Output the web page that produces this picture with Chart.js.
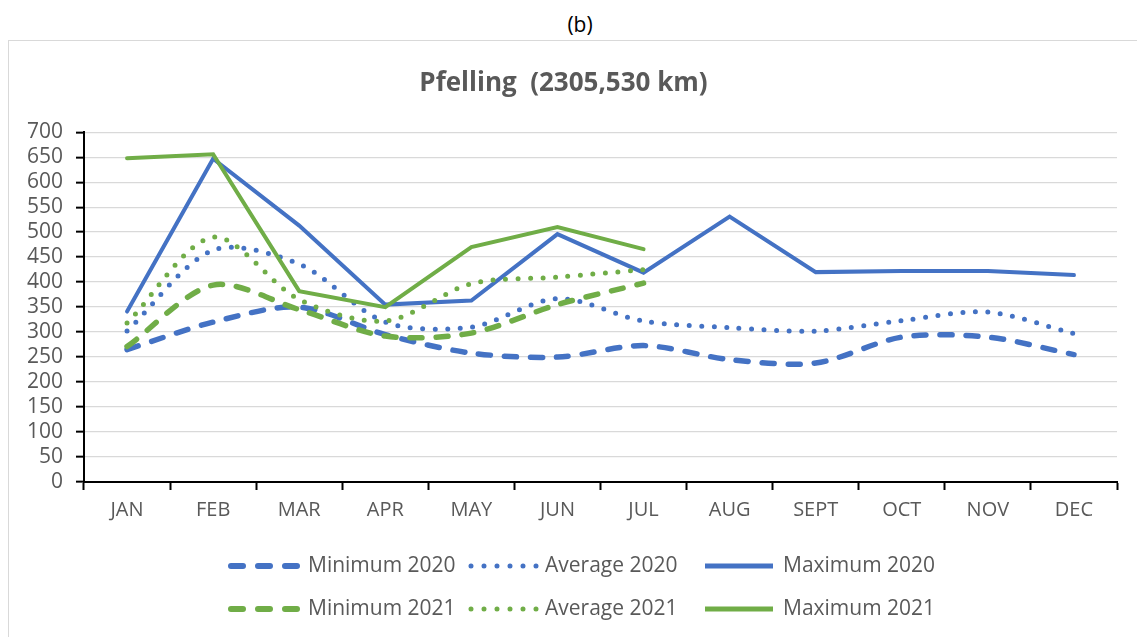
<!DOCTYPE html>
<html><head><meta charset="utf-8">
<script src="https://cdn.jsdelivr.net/npm/chart.js@4.4.0/dist/chart.umd.min.js"></script>
<style>
html,body{margin:0;padding:0;background:#fff;width:1137px;height:637px;overflow:hidden;}
#cap{position:absolute;left:0;width:1160px;top:9px;text-align:center;font-family:'Open Sans',sans-serif;font-size:21px;line-height:30px;color:#000;}
#frame{position:absolute;left:8px;top:40px;width:1160px;height:640px;border:1px solid #d9d9d9;}
#wrap{position:absolute;left:10px;top:41px;width:1127px;height:596px;}
</style></head>
<body>
<div id="cap">(b)</div>
<div id="frame"></div>
<div id="wrap"><canvas id="c"></canvas></div>
<script>
const months = ['JAN','FEB','MAR','APR','MAY','JUN','JUL','AUG','SEPT','OCT','NOV','DEC'];
const yTicks = [0,50,100,150,200,250,300,350,400,450,500,550,600,650,700];
const min2020 = [265, 320, 350, 295, 258, 250, 273, 245, 238, 290, 290, 255];
const avg2020 = [302, 464, 436, 320, 310, 367, 322, 309, 302, 323, 340, 297];
const max2020 = [341, 647, 513, 355, 363, 496, 419, 531, 420, 422, 422, 414];
const min2021 = [271, 394, 345, 292, 298, 355, 398];
const avg2021 = [318, 490, 365, 322, 397, 410, 425];
const max2021 = [648, 656, 382, 350, 470, 510, 466];

const BLUE = '#4472C4', GREEN = '#70AD47', TXT = '#595959';
const DASH = [12, 14], DOT = [0, 12.5];

function ds(label, data, color, kind, order){
  const o = {label, data, borderColor: color, backgroundColor: color, pointRadius: 0, pointHoverRadius: 0, fill: false, order, spanGaps: false, _kind: kind};
  if (kind === 'min'){ o.borderWidth = 5.5; o.borderDash = DASH; o.borderCapStyle = 'round'; o.tension = 0.3; }
  else if (kind === 'avg'){ o.borderWidth = 5; o.borderDash = DOT; o.borderCapStyle = 'round'; o.tension = 0.3; }
  else { o.borderWidth = 4; o.tension = 0; o.borderCapStyle = 'round'; o.borderJoinStyle = 'miter'; }
  return o;
}

const legendPlugin = {
  id: 'customLegend',
  afterDraw(chart){
    const ctx = chart.ctx;
    const swX = [218, 458, 695], swW = [72, 72, 68], txX = [298, 535, 773], rowY = [525, 568];
    chart.data.datasets.forEach((d, i) => {
      const r = Math.floor(i / 3), c = i % 3;
      const y = rowY[r];
      ctx.save();
      ctx.strokeStyle = d.borderColor;
      ctx.lineWidth = d._kind === 'max' ? 5 : (d._kind === 'min' ? 6 : 5);
      ctx.lineCap = d._kind === 'max' ? 'butt' : 'round';
      if (d._kind === 'min') ctx.setLineDash([12, 15]);
      else if (d._kind === 'avg') ctx.setLineDash([0, 13]);
      else ctx.setLineDash([]);
      const x0 = swX[c] + (d._kind === 'max' ? 0 : 3);
      ctx.beginPath(); ctx.moveTo(x0, y); ctx.lineTo(swX[c] + swW[c], y); ctx.stroke();
      ctx.setLineDash([]);
      ctx.fillStyle = TXT;
      ctx.font = "21px 'Open Sans'";
      ctx.textBaseline = 'middle';
      ctx.textAlign = 'left';
      ctx.fillText(d.label, txX[c], y);
      ctx.restore();
    });
  }
};

new Chart(document.getElementById('c'), {
  type: 'line',
  data: {
    labels: months,
    datasets: [
      ds('Minimum 2020', min2020, BLUE, 'min', 2),
      ds('Average 2020', avg2020, BLUE, 'avg', 2),
      ds('Maximum 2020', max2020, BLUE, 'max', 2),
      ds('Minimum 2021', min2021, GREEN, 'min', 1),
      ds('Average 2021', avg2021, GREEN, 'avg', 1),
      ds('Maximum 2021', max2021, GREEN, 'max', 1)
    ]
  },
  options: {
    responsive: true,
    maintainAspectRatio: false,
    animation: false,
    layout: { padding: { left: 0, right: 20, top: 0, bottom: 95 } },
    plugins: {
      legend: { display: false },
      tooltip: { enabled: false },
      title: {
        display: true,
        text: 'Pfelling  (2305,530 km)',
        color: TXT,
        font: { family: 'Open Sans', size: 26, weight: 'bold' },
        padding: { top: 27, bottom: 33 }
      }
    },
    scales: {
      x: {
        offset: true,
        grid: { display: true, drawOnChartArea: false, offset: true, tickColor: '#000', tickLength: 8, tickWidth: 2 },
        border: { display: true, color: '#000', width: 2 },
        ticks: { color: TXT, font: { family: 'Open Sans', size: 20 }, padding: 8, maxRotation: 0, autoSkip: false },
        afterFit(s){ s.height = 60; }
      },
      y: {
        min: 0, max: 700,
        afterBuildTicks(s){ s.ticks = yTicks.map(v => ({ value: v })); },
        grid: { color: '#d9d9d9', lineWidth: 1.3, tickColor: '#000', tickLength: 8, tickWidth: 2 },
        border: { display: true, color: '#000', width: 2 },
        ticks: { color: TXT, font: { family: 'Open Sans', size: 21 }, padding: 13, autoSkip: false },
        afterFit(s){ s.width = 74; }
      }
    }
  },
  plugins: [legendPlugin]
});
</script>
</body></html>
